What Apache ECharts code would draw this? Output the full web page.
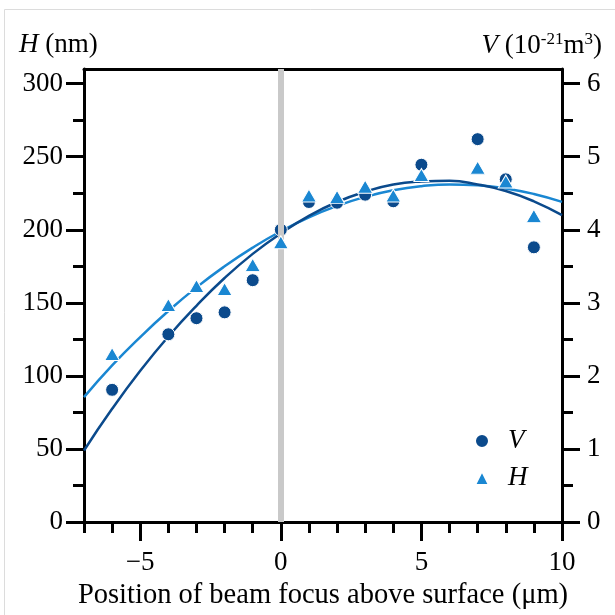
<!DOCTYPE html>
<html>
<head>
<meta charset="utf-8">
<script src="https://cdn.jsdelivr.net/npm/echarts@6/dist/echarts.min.js"></script>
<style>
html,body{margin:0;padding:0;background:#fff;}
#chart{width:615px;height:615px;}
</style>
</head>
<body>
<div id="chart"></div>
<script>
// ---- data ----
var positions = [-6, -4, -3, -2, -1, 0, 1, 2, 3, 4, 5, 7, 8, 9];
var volumeV = [1.81, 2.57, 2.79, 2.87, 3.31, 4.00, 4.38, 4.37, 4.48, 4.39, 4.89, 5.24, 4.69, 3.76];
var heightH = [115, 148.5, 161.5, 159.5, 176, 191.5, 223.5, 222.5, 229.5, 223.5, 237.5, 242.5, 233, 209.5];

var fitX = [-7, -6, -5, -4, -3, -2, -1, 0, 1, 2, 3, 4, 5, 6, 7, 8, 9, 10];
var fitV = [0.98, 1.55, 2.07, 2.54, 2.96, 3.34, 3.67, 3.95, 4.19, 4.38, 4.52, 4.62, 4.66, 4.67, 4.62, 4.53, 4.39, 4.20];
var fitH = [85.5, 107.2, 126.6, 144.4, 160.6, 175.0, 187.8, 199.0, 208.5, 216.3, 222.5, 227.0, 229.8, 231.0, 230.5, 228.3, 224.5, 219.1];

var xMajorTicks = [-5, 0, 5, 10];
var xMinorTicks = [-7, -6, -4, -3, -2, -1, 1, 2, 3, 4, 6, 7, 8, 9];
var hMajorTicks = [0, 50, 100, 150, 200, 250, 300];
var hMinorTicks = [25, 75, 125, 175, 225, 275];
var vMajorTicks = [0, 1, 2, 3, 4, 5, 6];
var vMinorTicks = [0.5, 1.5, 2.5, 3.5, 4.5, 5.5];
var focusPosition = 0;

var DARK = '#0b4a8c';
var LIGHT = '#1a87d2';
var FONT = '"Liberation Serif", "Times New Roman", serif';
var FS = 27;

function pairs(xs, ys) { return xs.map(function (x, i) { return [x, ys[i]]; }); }

var chart = echarts.init(document.getElementById('chart'), null, {renderer: 'canvas'});

var axisLineStyle = {color: '#000', width: 3};
var tickStyle = {color: '#000', width: 3};
var labelStyle = {color: '#000', fontFamily: FONT, fontSize: FS};

var option = {
  animation: false,
  backgroundColor: '#fff',
  grid: {left: 84, right: 53, top: 69, bottom: 83.5, containLabel: false},
  xAxis: [
    {
      type: 'value', min: -7, max: 10, interval: 1, position: 'bottom',
      axisLine: {show: true, onZero: false, lineStyle: axisLineStyle},
      axisTick: {show: true, inside: false, length: 19, lineStyle: tickStyle, customValues: xMajorTicks},
      axisLabel: Object.assign({show: true, margin: 27, customValues: xMajorTicks,
        formatter: function (v) { return String(v).replace('-', '\u2212'); }}, labelStyle),
      splitLine: {show: false},
      name: 'Position of beam focus above surface (\u03bcm)',
      nameLocation: 'middle', nameGap: 58,
      nameTextStyle: {color: '#000', fontFamily: FONT, fontSize: 28.5}
    },
    {
      type: 'value', min: -7, max: 10, interval: 1, position: 'bottom', offset: 0,
      axisLine: {show: false, onZero: false},
      axisTick: {show: true, inside: false, length: 11, lineStyle: tickStyle, customValues: xMinorTicks},
      axisLabel: {show: false},
      splitLine: {show: false}
    },
    {
      type: 'value', min: -7, max: 10, interval: 1, position: 'top',
      axisLine: {show: true, onZero: false, lineStyle: axisLineStyle},
      axisTick: {show: false}, axisLabel: {show: false}, splitLine: {show: false}
    }
  ],
  yAxis: [
    {
      type: 'value', min: 0, max: 310, interval: 50, position: 'left',
      axisLine: {show: true, onZero: false, lineStyle: axisLineStyle},
      axisTick: {show: true, inside: false, length: 18, lineStyle: tickStyle, customValues: hMajorTicks},
      axisLabel: Object.assign({show: true, margin: 21, customValues: hMajorTicks}, labelStyle),
      splitLine: {show: false}
    },
    {
      type: 'value', min: 0, max: 6.2, interval: 1, position: 'right',
      axisLine: {show: true, onZero: false, lineStyle: axisLineStyle},
      axisTick: {show: true, inside: false, length: 18, lineStyle: tickStyle, customValues: vMajorTicks},
      axisLabel: Object.assign({show: true, margin: 25, customValues: vMajorTicks}, labelStyle),
      splitLine: {show: false}
    },
    {
      type: 'value', min: 0, max: 310, interval: 50, position: 'left', offset: 0,
      axisLine: {show: false, onZero: false},
      axisTick: {show: true, inside: false, length: 11, lineStyle: tickStyle, customValues: hMinorTicks},
      axisLabel: {show: false}, splitLine: {show: false}
    },
    {
      type: 'value', min: 0, max: 6.2, interval: 1, position: 'right', offset: 0,
      axisLine: {show: false, onZero: false},
      axisTick: {show: true, inside: false, length: 11, lineStyle: tickStyle, customValues: vMinorTicks},
      axisLabel: {show: false}, splitLine: {show: false}
    }
  ],
  legend: {
    show: true, orient: 'vertical', left: 469, top: 421,
    itemWidth: 14, itemHeight: 14, itemGap: 7,
    data: [{name: 'V', icon: 'circle'}, {name: 'H', icon: 'triangle'}],
    textStyle: {color: '#000', fontFamily: FONT, fontSize: FS, fontStyle: 'italic', lineHeight: 30, padding: [0, 0, 0, 14]}
  },
  graphic: [
    {type: 'rect', silent: true, z: 100, shape: {x: 4.5, y: 9.5, width: 700, height: 700},
      style: {fill: 'none', stroke: '#dcdcdc', lineWidth: 1}},
    {type: 'text', left: 19, top: 31, z: 100,
      style: {text: '{i|H} (nm)', fill: '#000', font: FS + 'px ' + FONT,
        rich: {i: {fontStyle: 'italic', fontFamily: FONT, fontSize: FS}}}},
    {type: 'text', right: 13, top: 31, z: 100,
      style: {text: '{i|V} (10{s|-21}m{s|3})', fill: '#000', font: FS + 'px ' + FONT,
        rich: {
          i: {fontStyle: 'italic', fontFamily: FONT, fontSize: FS, lineHeight: 30},
          s: {fontFamily: FONT, fontSize: 17, verticalAlign: 'top', lineHeight: 17}
        }}}
  ],
  series: [
    {
      name: 'focus', type: 'line', xAxisIndex: 0, yAxisIndex: 0, data: [], z: 1, silent: true,
      markLine: {silent: true, symbol: ['none', 'none'], label: {show: false},
        lineStyle: {color: '#c9c9c9', width: 6, type: 'solid'},
        data: [{xAxis: focusPosition}]}
    },
    {
      name: 'Vfit', type: 'line', xAxisIndex: 0, yAxisIndex: 1, data: pairs(fitX, fitV),
      smooth: true, showSymbol: false, symbol: 'none', z: 3,
      lineStyle: {color: DARK, width: 2.5}
    },
    {
      name: 'Hfit', type: 'line', xAxisIndex: 0, yAxisIndex: 0, data: pairs(fitX, fitH),
      smooth: true, showSymbol: false, symbol: 'none', z: 2,
      lineStyle: {color: LIGHT, width: 2.5}
    },
    {
      name: 'V', type: 'scatter', xAxisIndex: 0, yAxisIndex: 1, data: pairs(positions, volumeV),
      symbol: 'circle', symbolSize: 13, z: 4,
      itemStyle: {color: DARK, borderColor: '#fff', borderWidth: 1, opacity: 1}
    },
    {
      name: 'H', type: 'scatter', xAxisIndex: 0, yAxisIndex: 0, data: pairs(positions, heightH),
      symbol: 'triangle', symbolSize: [15, 13], z: 5,
      itemStyle: {color: LIGHT, borderColor: '#fff', borderWidth: 1, opacity: 1}
    }
  ]
};
chart.setOption(option);
</script>
</body>
</html>
